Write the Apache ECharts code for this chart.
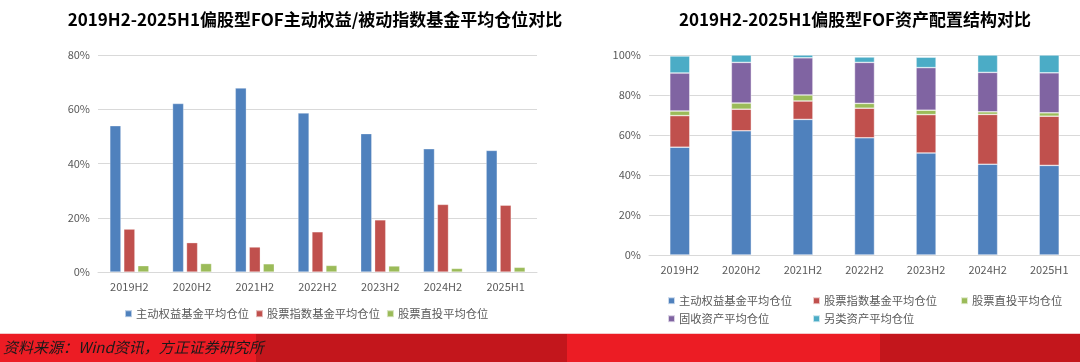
<!DOCTYPE html>
<html><head><meta charset="utf-8">
<script src="https://cdn.jsdelivr.net/npm/echarts@6/dist/echarts.min.js"></script>
<style>html,body{margin:0;padding:0;background:#fff}#c{width:1080px;height:362px}</style>
</head><body><div id="c"></div>
<script>
const categories = ['2019H2','2020H2','2021H2','2022H2','2023H2','2024H2','2025H1'];
const activeEquity = [53.9, 62.1, 67.8, 58.6, 51.0, 45.4, 44.8];
const passiveIndex = [15.8, 10.8, 9.2, 14.8, 19.2, 24.9, 24.6];
const directStock = [2.3, 3.1, 3.0, 2.4, 2.2, 1.3, 1.7];
const fixedIncome = [19.0, 20.3, 18.6, 20.5, 21.3, 19.7, 20.0];
const alternative = [8.5, 3.7, 1.4, 2.7, 5.2, 8.7, 8.9];
const leftTicks = [0, 20, 40, 60, 80];
const rightTicks = [0, 20, 40, 60, 80, 100];
const names = ['主动权益基金平均仓位','股票指数基金平均仓位','股票直投平均仓位','固收资产平均仓位','另类资产平均仓位'];
const colors = ['#4F81BD','#C0504D','#9BBB59','#8064A2','#4BACC6'];

const font = '"Noto Sans CJK SC", "Noto Sans", sans-serif';
const lblColor = '#595959';
const gridColor = '#D9D9D9';

function xAxis(gi){
  return {type:'category', gridIndex:gi, data:categories,
    axisLine:{lineStyle:{color:gridColor}}, axisTick:{show:false},
    axisLabel:{color:lblColor, fontSize:11, fontFamily:font, margin:9}};
}
function yAxis(gi, max){
  return {type:'value', gridIndex:gi, min:0, max:max, interval:20,
    axisLine:{show:false}, axisTick:{show:false},
    splitLine:{lineStyle:{color:gridColor}},
    axisLabel:{color:lblColor, fontSize:11, fontFamily:font, margin:8, formatter:v=>v+'%'}};
}
const legendBase = {icon:'rect', itemWidth:7, itemHeight:7, itemGap:6,
  textStyle:{color:lblColor, fontSize:11.3, fontFamily:font, padding:[0,0,0,-1]}};

const series = [];
const leftData = [activeEquity, passiveIndex, directStock];
leftData.forEach((d,i)=>{
  series.push({type:'bar', name:names[i], xAxisIndex:0, yAxisIndex:0, data:d,
    barWidth:11, barGap:'27%', itemStyle:{color:colors[i], borderColor:'rgba(255,255,255,0.6)', borderWidth:0.5}});
});
const rightData = [activeEquity, passiveIndex, directStock, fixedIncome, alternative];
rightData.forEach((d,i)=>{
  series.push({type:'bar', name:names[i]+' ', xAxisIndex:1, yAxisIndex:1, data:d, stack:'s',
    barWidth:20, itemStyle:{color:colors[i], borderColor:'rgba(255,255,255,0.7)', borderWidth:0.6}});
});

const rightLegendPos = [[662,290],[807,290],[955,290],[662,308],[807,308]];
const legends = [Object.assign({}, legendBase, {left:119, top:303, data:names.slice(0,3)})];
rightLegendPos.forEach((p,i)=>{
  legends.push(Object.assign({}, legendBase, {left:p[0], top:p[1], data:[names[i]+' '],
    formatter: n=>n.trim()}));
});

const option = {
  animation:false,
  title:[
    {text:'2019H2-2025H1偏股型FOF主动权益/被动指数基金平均仓位对比', left:310, top:6, textAlign:'center',
      textStyle:{fontSize:17, fontWeight:'bold', color:'#000', fontFamily:font}},
    {text:'2019H2-2025H1偏股型FOF资产配置结构对比', left:850, top:6, textAlign:'center',
      textStyle:{fontSize:17, fontWeight:'bold', color:'#000', fontFamily:font}}
  ],
  grid:[
    {left:98, top:55, width:439, height:217},
    {left:649, top:55, width:433, height:200}
  ],
  xAxis:[xAxis(0), xAxis(1)],
  yAxis:[yAxis(0,80), yAxis(1,100)],
  legend: legends,
  series: series,
  graphic:[
    {type:'rect', shape:{x:0,y:333,width:1080,height:1}, style:{fill:'#F3C9CB'}},
    {type:'rect', shape:{x:0,y:334,width:256,height:28}, style:{fill:'#EC1C24'}},
    {type:'rect', shape:{x:256,y:334,width:311,height:28}, style:{fill:'#C3161C'}},
    {type:'rect', shape:{x:567,y:334,width:313,height:28}, style:{fill:'#EC1C24'}},
    {type:'rect', shape:{x:880,y:334,width:200,height:28}, style:{fill:'#C3161C'}},
    {type:'text', left:3, top:340, style:{text:'资料来源：Wind资讯，方正证券研究所', fill:'#1a1a1a',
      font:'italic normal 15px "Noto Sans CJK SC", sans-serif'}}
  ]
};
echarts.init(document.getElementById('c')).setOption(option);
</script></body></html>
